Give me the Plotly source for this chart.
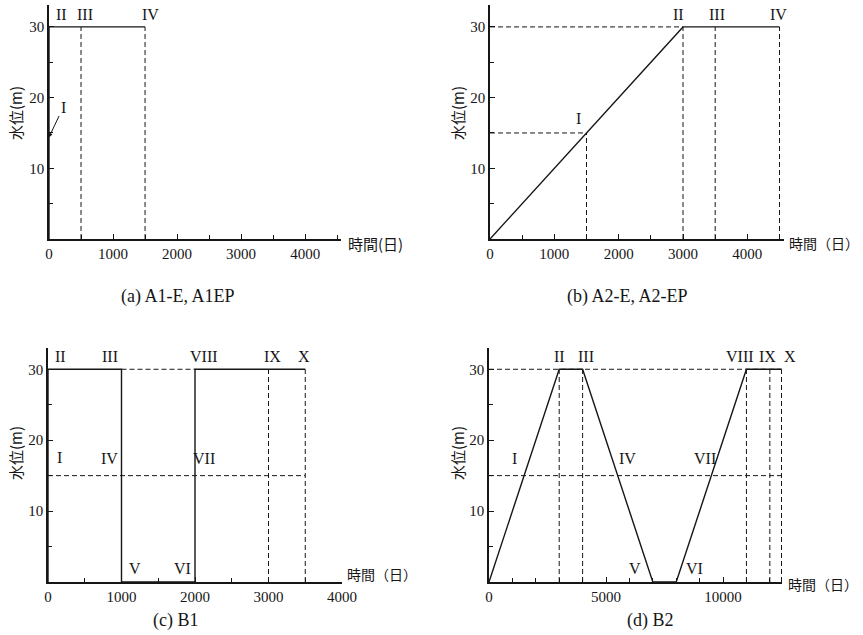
import plotly.graph_objects as go

W, H = 863, 635

# ---------------- data ----------------
# (a) A1-E, A1EP
a_t = [0, 0, 1500]
a_h = [0, 30, 30]
a_guides = [(500, 0, 500, 30), (1500, 0, 1500, 30)]
a_lab = ["II", "III", "IV"]
a_lab_t = [200, 560, 1580]
a_lab_h = [31.8, 31.8, 31.8]
a_arrow_lab = "I"
a_arrow_from = (220, 18.6)
a_arrow_to = (0, 14.4)

# (b) A2-E, A2-EP
b_t = [0, 3000, 4500]
b_h = [0, 30, 30]
b_guides = [(0, 30, 3000, 30), (0, 15, 1500, 15), (1500, 0, 1500, 15),
            (3000, 0, 3000, 30), (3500, 0, 3500, 30), (4500, 0, 4500, 30)]
b_lab = ["I", "II", "III", "IV"]
b_lab_t = [1370, 2925, 3530, 4480]
b_lab_h = [17.0, 31.8, 31.8, 31.8]

# (c) B1
c_t = [0, 0, 1000, 1000, 2000, 2000, 3500]
c_h = [0, 30, 30, 0, 0, 30, 30]
c_guides = [(1000, 30, 2000, 30), (0, 15, 3500, 15),
            (3000, 0, 3000, 30), (3500, 0, 3500, 30)]
c_lab = ["II", "III", "VIII", "IX", "X", "I", "IV", "VII", "V", "VI"]
c_lab_t = [165, 840, 2120, 3060, 3480, 150, 840, 2120, 1180, 1830]
c_lab_h = [31.8, 31.8, 31.8, 31.8, 31.8, 17.6, 17.4, 17.4, 1.9, 1.9]

# (d) B2
d_t = [0, 3000, 4000, 7000, 8000, 11000, 12500]
d_h = [0, 30, 30, 0, 0, 30, 30]
d_guides = [(0, 30, 12500, 30), (0, 15, 12500, 15),
            (3000, 0, 3000, 30), (4000, 0, 4000, 30), (11000, 0, 11000, 30),
            (12000, 0, 12000, 30), (12500, 0, 12500, 30)]
d_lab = ["II", "III", "VIII", "IX", "X", "I", "IV", "VII", "V", "VI"]
d_lab_t = [3000, 4150, 10730, 11920, 12500, 1110, 5900, 9230, 6240, 8800]
d_lab_h = [31.8, 31.8, 31.8, 31.8, 31.8, 17.4, 17.4, 17.4, 1.9, 1.9]
d_lab_shift = [0, 0, 0, 0, 8, 0, 0, 0, 0, 0]

captions = ["(a) A1-E, A1EP", "(b) A2-E, A2-EP", "(c) B1", "(d) B2"]
y_title = "水位(m)"
x_titles = ["時間(日)", "時間（日）", "時間（日）", "時間（日）"]

# ---------------- layout geometry (pixels) ----------------
SERIF = "Liberation Serif, DejaVu Serif, serif"
CJK = "Noto Sans CJK JP"
INK = "#161616"

panels = [
    dict(t=a_t, h=a_h, g=a_guides, lab=a_lab, lt=a_lab_t, lh=a_lab_h, ls=None,
         px=(49, 341), py=(239, 5), xr=4560, yr=33.1, xt=[0, 1000, 2000, 3000, 4000],
         minor=500, cap=(177, 297), ytl=(15, 113), xtl=(346, 243), xts=15),
    dict(t=b_t, h=b_h, g=b_guides, lab=b_lab, lt=b_lab_t, lh=b_lab_h, ls=None,
         px=(490, 784), py=(239, 5), xr=4570, yr=33.1, xt=[0, 1000, 2000, 3000, 4000],
         minor=500, cap=(627, 297), ytl=(457, 113), xtl=(787, 243), xts=14),
    dict(t=c_t, h=c_h, g=c_guides, lab=c_lab, lt=c_lab_t, lh=c_lab_h, ls=None,
         px=(48, 342), py=(582, 348), xr=4000, yr=33.0, xt=[0, 1000, 2000, 3000, 4000],
         minor=500, cap=(175, 620), ytl=(15, 453), xtl=(345, 574), xts=14),
    dict(t=d_t, h=d_h, g=d_guides, lab=d_lab, lt=d_lab_t, lh=d_lab_h, ls=d_lab_shift,
         px=(489, 782), py=(582, 348), xr=12520, yr=33.0, xt=[0, 5000, 10000],
         minor=1000, cap=(650, 620), ytl=(457, 453), xtl=(786, 584), xts=14),
]

fig = go.Figure()
layout = dict(template="none", width=W, height=H,
              margin=dict(l=0, r=0, t=0, b=0, pad=0, autoexpand=False),
              paper_bgcolor="white", plot_bgcolor="rgba(0,0,0,0)",
              showlegend=False)
annotations = []

for i, p in enumerate(panels):
    n = "" if i == 0 else str(i + 1)
    xa, ya = "x" + n, "y" + n
    # guides (dashed)
    gx, gy = [], []
    for (t0, h0, t1, h1) in p["g"]:
        gx += [t0, t1, None]
        gy += [h0, h1, None]
    fig.add_trace(go.Scatter(x=gx, y=gy, mode="lines", xaxis=xa, yaxis=ya,
                             line=dict(color=INK, width=1, dash="5px,3px"),
                             hoverinfo="skip", cliponaxis=False))
    # water level (solid)
    fig.add_trace(go.Scatter(x=p["t"], y=p["h"], mode="lines", xaxis=xa, yaxis=ya,
                             line=dict(color=INK, width=1.4),
                             hoverinfo="skip", cliponaxis=False))
    # stage labels
    shifts = p["ls"] or [0] * len(p["lab"])
    for s, t, h, sh in zip(p["lab"], p["lt"], p["lh"], shifts):
        annotations.append(dict(x=t, y=h, xref=xa, yref=ya, text=s, showarrow=False,
                                xshift=sh, xanchor="center", yanchor="middle",
                                font=dict(family=SERIF, size=16, color=INK)))
    xd = [p["px"][0] / W, p["px"][1] / W]
    yd = [1 - p["py"][0] / H, 1 - p["py"][1] / H]
    axcommon = dict(showline=True, linecolor=INK, linewidth=1.5, showgrid=False,
                    zeroline=False, automargin=False, ticks="inside", ticklen=5,
                    tickwidth=1.2, tickcolor=INK,
                    tickfont=dict(family=SERIF, size=15, color=INK))
    layout["xaxis" + n] = dict(axcommon, domain=xd, anchor=ya, range=[0, p["xr"]],
                               tickvals=p["xt"], ticktext=[str(v) for v in p["xt"]],
                               minor=dict(dtick=p["minor"], tick0=0, ticks="inside",
                                          ticklen=4, tickcolor=INK, tickwidth=1.2))
    layout["yaxis" + n] = dict(axcommon, domain=yd, anchor=xa, range=[0, p["yr"]],
                               tickvals=[10, 20, 30], ticktext=["10", "20", "30"],
                               minor=dict(dtick=5, tick0=0, ticks="inside",
                                          ticklen=4, tickcolor=INK, tickwidth=1.2))
    # captions
    annotations.append(dict(x=p["cap"][0] / W, y=1 - p["cap"][1] / H, xref="paper",
                            yref="paper", text=captions[i], showarrow=False,
                            xanchor="center", yanchor="middle",
                            font=dict(family=SERIF, size=18, color=INK)))
    # y title
    annotations.append(dict(x=p["ytl"][0] / W, y=1 - p["ytl"][1] / H, xref="paper",
                            yref="paper", text=y_title, textangle=-90, showarrow=False,
                            xanchor="center", yanchor="middle",
                            font=dict(family=CJK, size=15, color=INK)))
    # x title
    annotations.append(dict(x=p["xtl"][0] / W, y=1 - p["xtl"][1] / H, xref="paper",
                            yref="paper", text=x_titles[i], showarrow=False,
                            xanchor="left", yanchor="middle",
                            font=dict(family=CJK, size=p["xts"], color=INK)))

# arrow label in (a)
annotations.append(dict(x=a_arrow_to[0], y=a_arrow_to[1], xref="x", yref="y",
                        ax=a_arrow_from[0], ay=a_arrow_from[1], axref="x", ayref="y",
                        text=a_arrow_lab, showarrow=True, arrowhead=2, arrowsize=0.8,
                        arrowwidth=1, arrowcolor=INK,
                        font=dict(family=SERIF, size=16, color=INK)))

layout["annotations"] = annotations
fig.update_layout(**layout)
fig.write_html("out.html", config={"displayModeBar": False},
               post_script="document.body.style.margin='0';document.body.style.overflow='hidden';")
